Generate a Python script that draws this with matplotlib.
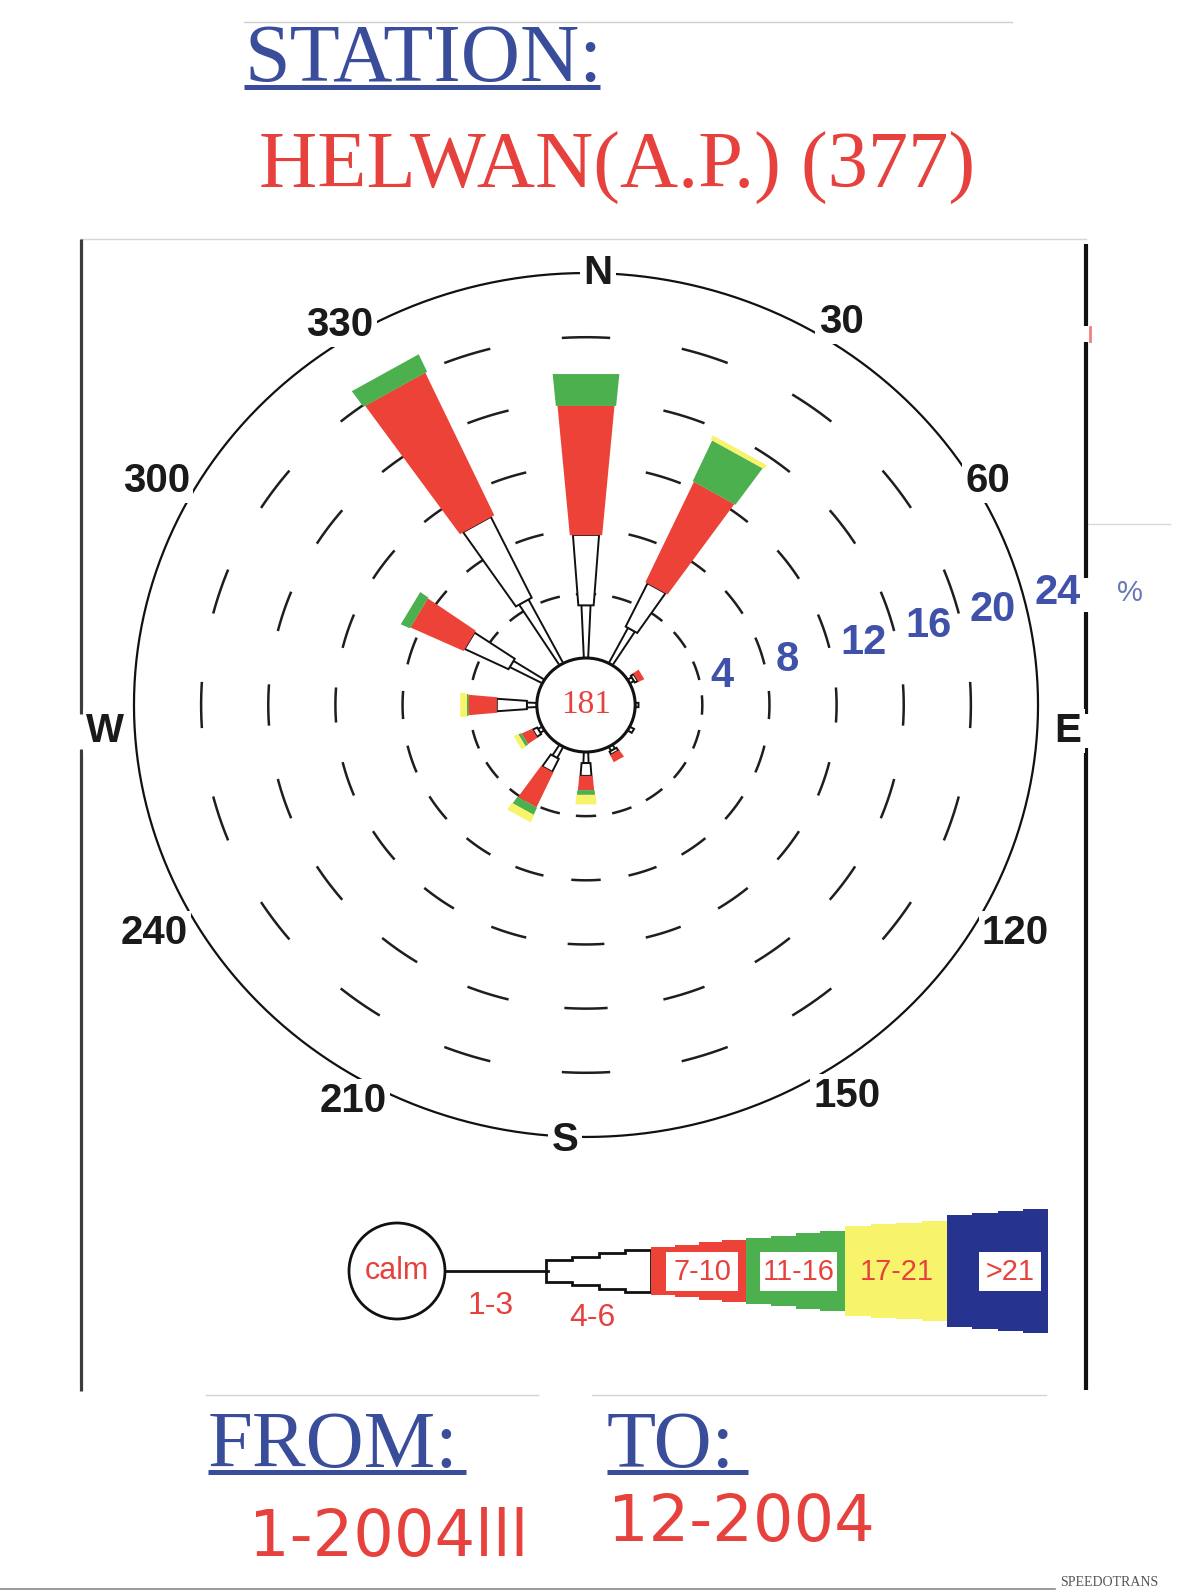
import numpy as np
import matplotlib
matplotlib.use("Agg")
import matplotlib.pyplot as plt
from matplotlib import font_manager as fm
from matplotlib.patches import Polygon, Circle, Rectangle

# ---------------- data ----------------
station_name = "HELWAN(A.P.) (377)"
period_from = "1-2004lll"
period_to = "12-2004"
calm_count = "181"

directions = [0, 30, 60, 90, 120, 150, 180, 210, 240, 270, 300, 330]
speed_classes = ["1-3", "4-6", "7-10", "11-16", "17-21", ">21"]
# frequency (%) of each speed class per direction
freq_1_3 = [3.3, 2.5, 0.3, 0.2, 0.3, 0.3, 0.7, 0.8, 0.3, 0.6, 2.2, 4.5]
freq_4_6 = [4.4, 3.0, 0.2, 0.0, 0.0, 0.2, 0.8, 0.9, 0.3, 1.8, 2.9, 5.6]
freq_7_10 = [8.1, 6.9, 0.4, 0.0, 0.0, 0.5, 0.9, 2.4, 0.7, 1.7, 3.5, 9.8]
freq_11_16 = [2.0, 2.8, 0.0, 0.0, 0.0, 0.0, 0.3, 0.5, 0.2, 0.1, 0.6, 1.2]
freq_17_21 = [0.0, 0.3, 0.0, 0.0, 0.0, 0.0, 0.6, 0.5, 0.3, 0.4, 0.0, 0.0]
freq_gt_21 = [0.0, 0.0, 0.0, 0.0, 0.0, 0.0, 0.0, 0.0, 0.0, 0.0, 0.0, 0.0]

ring_levels = [4, 8, 12, 16, 20, 24]
bearing_labels = ["N", "30", "60", "E", "120", "150", "S", "210", "240", "W", "300", "330"]

# ---------------- style ----------------
RED = "#ec4237"
GREEN = "#4db04f"
YELLOW = "#f7f36a"
NAVY = "#27348f"
TITLE_BLUE = "#3a4d9b"
TXT_RED = "#e6413d"
PCT_BLUE = "#3f51a8"
class_face = ["white", "white", RED, GREEN, YELLOW, NAVY]
class_half_deg = [2.5, 4.2, 5.2, 5.5, 5.8, 6.2]

SERIF = ["Liberation Serif", "DejaVu Serif"]
SANS = ["Liberation Sans", "DejaVu Sans"]
_installed = {f.name for f in fm.fontManager.ttflist}
if "Liberation Sans Narrow" in _installed:
    NARROW, NARROW_SCALE = ["Liberation Sans Narrow"], 1.0
else:
    NARROW, NARROW_SCALE = SANS, 0.8

W_PX, H_PX = 1190, 1595
fig = plt.figure(figsize=(W_PX / 100, H_PX / 100), dpi=100)
fig.patch.set_facecolor("white")

# page layer in pixel coordinates
page = fig.add_axes([0, 0, 1, 1])
page.set_xlim(0, W_PX)
page.set_ylim(H_PX, 0)
page.axis("off")

# rose layer: units are percent (plus the calm-circle radius)
CALM_R = 2.93
R_MAX = CALM_R + ring_levels[-1]
KX, KY = 16.785, 16.04          # pixels per unit horizontally / vertically
CX, CY = 586, 705               # rose centre on the page
LIM = 30
rose = fig.add_axes([(CX - LIM * KX) / W_PX, (H_PX - CY - LIM * KY) / H_PX,
                     2 * LIM * KX / W_PX, 2 * LIM * KY / H_PX])
rose.set_xlim(-LIM, LIM)
rose.set_ylim(-LIM, LIM)
rose.axis("off")


def polar_xy(r, bearing_deg):
    a = np.radians(bearing_deg)
    return r * np.sin(a), r * np.cos(a)


def wedge(ax, bearing, r0, r1, half, **kw):
    x0a, y0a = polar_xy(r0, bearing - half)
    x0b, y0b = polar_xy(r0, bearing + half)
    x1a, y1a = polar_xy(r1, bearing - half)
    x1b, y1b = polar_xy(r1, bearing + half)
    ax.add_patch(Polygon([(x0a, y0a), (x0b, y0b), (x1b, y1b), (x1a, y1a)],
                         closed=True, **kw))


# dashed percentage rings
dash_half = [5.0, 4.6, 4.2, 3.9, 3.6]
for lvl, dh in zip(ring_levels[:-1], dash_half):
    r = CALM_R + lvl
    xs, ys = [], []
    for c in np.arange(0, 360, 18):
        t = np.linspace(c - dh, c + dh, 12)
        x, y = polar_xy(r, t)
        xs += list(x) + [np.nan]
        ys += list(y) + [np.nan]
    rose.plot(xs, ys, color="#1e1e1e", lw=1.8, zorder=1, solid_capstyle="butt")

# outer ring
t = np.linspace(0, 360, 721)
ox, oy = polar_xy(R_MAX, t)
rose.plot(ox, oy, color="#111111", lw=1.6, zorder=2)

# wind bars, stacked by speed class
class_freqs = [freq_1_3, freq_4_6, freq_7_10, freq_11_16, freq_17_21, freq_gt_21]
for i, d in enumerate(directions):
    r_in = CALM_R
    for k, freqs in enumerate(class_freqs):
        f = freqs[i]
        if f <= 0:
            continue
        r_out = r_in + f
        if class_face[k] == "white":
            wedge(rose, d, r_in, r_out, class_half_deg[k], facecolor="white",
                  edgecolor="#111111", lw=1.4, zorder=3)
        else:
            wedge(rose, d, r_in, r_out, class_half_deg[k], facecolor=class_face[k],
                  edgecolor="none", zorder=3)
        r_in = r_out

# calm circle
rose.add_patch(Circle((0, 0), CALM_R, facecolor="white", edgecolor="#111111",
                      lw=2.2, zorder=4))
rose.text(0, 0, calm_count, ha="center", va="center", color=TXT_RED,
          family=SERIF, fontsize=24, zorder=5)

# bearing labels around the outer ring
label_offsets = [(12, 0), (29, -9), (10, -8), (30, 26), (38, 12), (35, 17),
                 (-21, 3), (-7, 22), (-40, 12), (-29, 26), (-38, -8), (-20, -6)]
for lab, d, (dx, dy) in zip(bearing_labels, directions, label_offsets):
    x, y = polar_xy(R_MAX, d)
    rose.annotate(lab, xy=(x, y), xytext=(dx, -dy), textcoords="offset pixels",
                  ha="center", va="center", fontsize=29, fontweight="bold",
                  family=SANS, color="#1a1a1a", zorder=6,
                  bbox=dict(boxstyle="square,pad=0.08", fc="white", ec="none"))

# percentage scale labels
for lvl in ring_levels:
    x, y = polar_xy(CALM_R + lvl, 75)
    rose.annotate(str(lvl), xy=(x, y), xytext=(12, 0), textcoords="offset pixels",
                  ha="left", va="center", fontsize=30, fontweight="bold",
                  family=NARROW if NARROW_SCALE == 1.0 else SANS, color=PCT_BLUE,
                  zorder=6)
x24, y24 = polar_xy(R_MAX, 75)
rose.annotate("%", xy=(x24, y24), xytext=(94, 0), textcoords="offset pixels",
              ha="left", va="center", fontsize=21, family=SANS,
              color="#6a78b8", zorder=6)

# ---------------- page decoration ----------------
page.plot([244, 1012], [22, 22], color="#cfcfcf", lw=1)
page.plot([81, 1086], [239, 239], color="#d6d6d6", lw=1)
page.plot([1088, 1170], [524, 524], color="#d8d8d8", lw=1)
page.plot([206, 538], [1395, 1395], color="#d2d2d2", lw=1)
page.plot([592, 1046], [1395, 1395], color="#d2d2d2", lw=1)
page.plot([0, 1055], [1589, 1589], color="#8a8a8a", lw=1.2)

# frame verticals (broken where the W / E / 24 labels sit)
for y0, y1 in [(239, 714), (749, 1391)]:
    page.plot([81, 81], [y0, y1], color="#3c3c3c", lw=2.3, solid_capstyle="butt")
for y0, y1 in [(244, 326), (342, 578), (612, 714), (748, 1390)]:
    page.plot([1086, 1086], [y0, y1], color="#111111", lw=3.0, solid_capstyle="butt")
page.plot([1090, 1090], [327, 341], color="#f08080", lw=2)

# titles
page.text(244, 81, "STATION:", ha="left", va="baseline", color=TITLE_BLUE,
          family=SERIF, fontsize=59)
page.plot([244, 600], [87, 87], color=TITLE_BLUE, lw=3.6, solid_capstyle="butt")
page.text(259, 188, station_name, ha="left", va="baseline", color=TXT_RED,
          family=SERIF, fontsize=58)

page.text(208, 1467, "FROM:", ha="left", va="baseline", color=TITLE_BLUE,
          family=SERIF, fontsize=58)
page.plot([208, 466], [1472, 1472], color=TITLE_BLUE, lw=3.6, solid_capstyle="butt")
page.text(607, 1467, "TO:", ha="left", va="baseline", color=TITLE_BLUE,
          family=SERIF, fontsize=58)
page.plot([607, 748], [1472, 1472], color=TITLE_BLUE, lw=3.6, solid_capstyle="butt")
page.text(249, 1556, period_from, ha="left", va="baseline", color=TXT_RED,
          family=["DejaVu Sans"], fontsize=46)
page.text(608, 1541, period_to, ha="left", va="baseline", color=TXT_RED,
          family=["DejaVu Sans"], fontsize=46)
page.text(1060, 1586, "SPEEDOTRANS", ha="left", va="baseline", color="#555555",
          family=SERIF, fontsize=10)

# ---------------- speed-class key ----------------
KEY_Y = 1271


def stepped_band(ax, x0, x1, h0, h1, yc, nsteps, **kw):
    xs = np.linspace(x0, x1, nsteps + 1)
    hs = np.linspace(h0, h1, nsteps) / 2.0
    top = []
    for i in range(nsteps):
        top += [(xs[i], yc - hs[i]), (xs[i + 1], yc - hs[i])]
    bottom = [(x, 2 * yc - y) for x, y in top[::-1]]
    ax.add_patch(Polygon(top + bottom, closed=True, **kw))


page.add_patch(Circle((397, KEY_Y), 48, facecolor="white", edgecolor="#111111", lw=2))
page.text(397, KEY_Y, "calm", ha="center", va="center", color=TXT_RED,
          family=SANS, fontsize=22)
page.plot([445, 548], [KEY_Y, KEY_Y], color="#111111", lw=2)

band_edges = [546, 651, 746, 845, 947, 1048]
band_heights = [(22, 42), (48, 62), (66, 80), (90, 100), (112, 124)]
for k in range(5):
    face = class_face[k + 1]
    kw = dict(facecolor=face, edgecolor="#111111" if face == "white" else "none",
              lw=2 if face == "white" else 0)
    stepped_band(page, band_edges[k], band_edges[k + 1], band_heights[k][0],
                 band_heights[k][1], KEY_Y, 4, **kw)

# white label boxes inside the coloured bands
for x0, x1 in [(666, 738), (760, 837), (979, 1041)]:
    page.add_patch(Rectangle((x0, KEY_Y - 19), x1 - x0, 39, facecolor="white",
                             edgecolor="none"))
for lab, xc in zip(speed_classes[2:], [702, 799, 897, 1010]):
    page.text(xc, KEY_Y + 1, lab, ha="center", va="center", color=TXT_RED,
              family=NARROW, fontsize=26 * NARROW_SCALE)
page.text(491, 1306, speed_classes[0], ha="center", va="center", color=TXT_RED,
          family=NARROW, fontsize=25 if NARROW_SCALE == 1.0 else 23)
page.text(592, 1318, speed_classes[1], ha="center", va="center", color=TXT_RED,
          family=NARROW, fontsize=25 if NARROW_SCALE == 1.0 else 23)

fig.savefig("out.png", dpi=100, facecolor="white")
